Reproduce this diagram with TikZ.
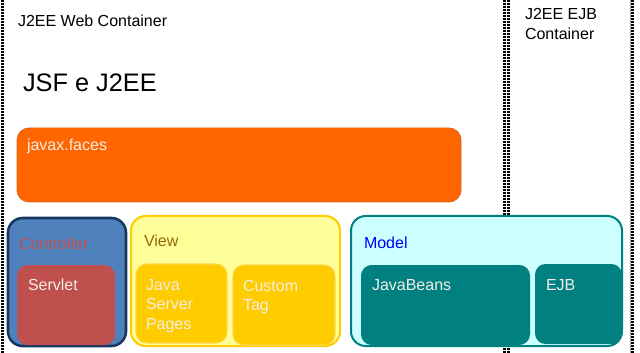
\documentclass[tikz,border=0pt]{standalone}
\usepackage{fontspec}
\setmainfont{Liberation Sans}
\usetikzlibrary{fit}
\definecolor{jorange}{HTML}{FF6600}
\definecolor{jorangeb}{HTML}{D9661A}
\definecolor{cblue}{HTML}{4F81BD}
\definecolor{cnavy}{HTML}{17375E}
\definecolor{cred}{HTML}{C0504D}
\definecolor{vlight}{HTML}{FFFF99}
\definecolor{vgold}{HTML}{FFCC00}
\definecolor{vgoldb}{HTML}{FFD84D}
\definecolor{vbrown}{HTML}{996600}
\definecolor{mcyan}{HTML}{CCFFFF}
\definecolor{mteal}{HTML}{008080}
\definecolor{ltext}{HTML}{F4EEE6}
\begin{document}
\begin{tikzpicture}[x=0.75pt,y=-0.75pt,
  box/.style={inner sep=0pt, outer sep=0pt, rounded corners=9pt},
  inbox/.style={inner sep=0pt, outer sep=0pt, rounded corners=8pt},
  lbl/.style={inner sep=0pt, outer sep=0pt, anchor=base west, font=\fontsize{12}{14.8}\selectfont},
  dotline/.style={line width=2pt, dash pattern=on 1.5pt off 0.75pt, black}
]
\useasboundingbox[fill=white] (0,0) rectangle (640,353);
% container borders
\coordinate (la) at (2.5,0);   \coordinate (lb) at (2.5,353);
\coordinate (ma) at (504.5,0); \coordinate (mb) at (504.5,353);
\coordinate (na) at (508.5,0); \coordinate (nb) at (508.5,353);
\coordinate (ra) at (632.5,0); \coordinate (rb) at (632.5,353);
\coordinate (sa) at (630,0); \coordinate (sb) at (630,353);
\draw[dotline] (la) -- (lb);
\draw[dotline] (ma) -- (mb);
\draw[dotline] (na) -- (nb);
\draw[gray!70, line width=0.5pt] (sa) -- (sb);
\draw[dotline] (ra) -- (rb);
% titles
\node[lbl] (webT) at (18,27) {J2EE Web Container};
\node[lbl, font=\fontsize{19}{22}\selectfont] (jsfT) at (23,92) {JSF e J2EE};
\node[lbl, align=left, anchor=north west, font=\fontsize{12}{15.6}\selectfont] (ejbcT) at (525,8) {J2EE EJB\\Container};
% javax.faces
\node[box, fill=jorange, draw=jorangeb, line width=0.6pt, fit={(17,128) (461,202)}] (faces) {};
\node[lbl, text=ltext] (facesT) at (27,151) {javax.faces};
% Controller
\node[box, rounded corners=11pt, fill=cblue, draw=cnavy, line width=1.9pt, fit={(8,218) (126,346)}] (ctrl) {};
\node[lbl, text=cred] (ctrlT) at (19,249) {Controller};
\node[inbox, fill=cred, fit={(17,265) (115,345)}] (servlet) {};
\node[lbl, text=ltext] (servletT) at (28,291) {Servlet};
% View
\node[box, rounded corners=11pt, fill=vlight, draw=vgold, line width=1.5pt, fit={(131,216) (340,346)}] (view) {};
\node[lbl, text=vbrown] (viewT) at (144,247) {View};
\node[inbox, fill=vgold, draw=vgoldb, line width=0.8pt, fit={(136,264) (227,343)}] (jsp) {};
\node[lbl, text=ltext, align=left, anchor=north west] (jspT) at (146,279) {Java\\Server\\Pages};
\node[inbox, fill=vgold, draw=vgoldb, line width=0.8pt, fit={(233,265) (335,345)}] (ctag) {};
\node[lbl, text=ltext, align=left, anchor=north west] (ctagT) at (243,280) {Custom\\Tag};
% Model
\node[box, rounded corners=11pt, fill=mcyan, draw=mteal, line width=1.5pt, fit={(351,216) (622,346)}] (model) {};
\node[lbl, text=blue] (modelT) at (364,248) {Model};
\node[inbox, fill=mteal, fit={(361,265) (530,345)}] (jb) {};
\node[lbl, text=ltext] (jbT) at (372,291) {JavaBeans};
\node[inbox, fill=mteal, fit={(535,264) (622,344)}] (ejb) {};
\node[lbl, text=ltext] (ejbT) at (546,291) {EJB};
\end{tikzpicture}
\end{document}
